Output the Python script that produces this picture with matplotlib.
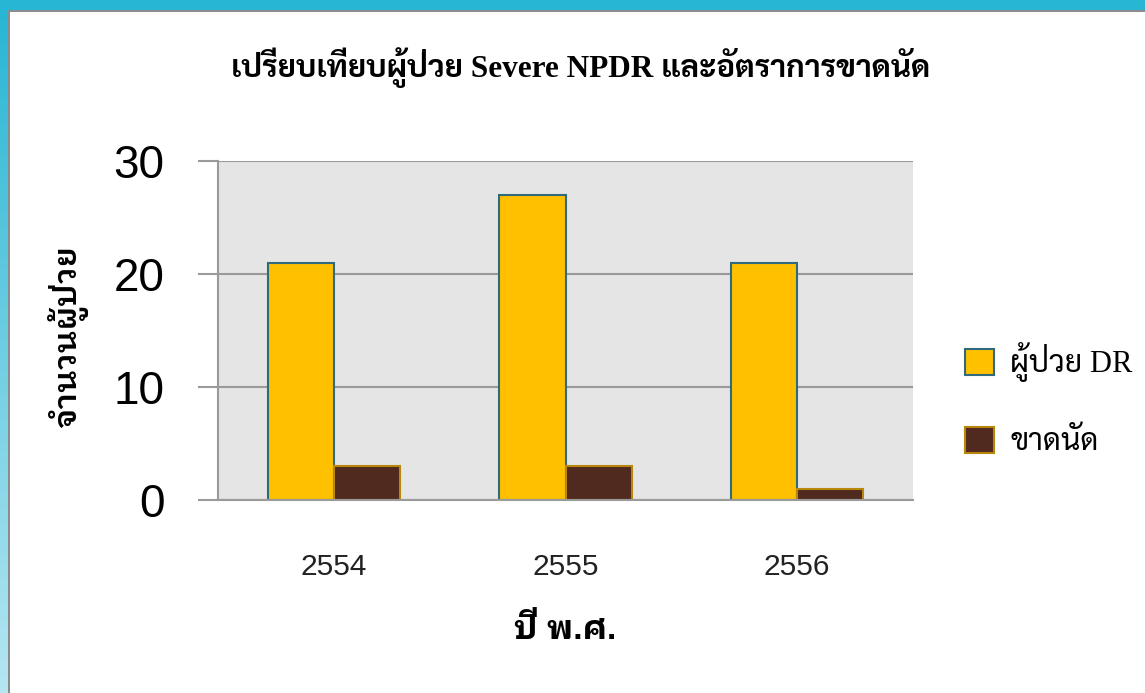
import matplotlib
matplotlib.use("Agg")
import matplotlib.pyplot as plt
import numpy as np
from matplotlib.patches import Rectangle, Patch

# ---- data ----
years = ["2554", "2555", "2556"]
dr_patients = [21, 27, 21]
missed_appointments = [3, 3, 1]
y_ticks = [0, 10, 20, 30]

title_text = "เปรียบเทียบผู้ป่วย Severe NPDR และอัตราการขาดนัด"
ylabel_text = "จำนวนผู้ป่วย"
xlabel_text = "ปี พ.ศ."
series_labels = ["ผู้ป่วย DR", "ขาดนัด"]

# ---- styling ----
W, H = 1145, 693
serif_thai = ["Liberation Serif", "Sarabun"]
sans_thai = ["Liberation Sans", "IBM Plex Sans Thai Looped"]
yellow, yellow_edge = "#FFC000", "#2F6B7C"
brown, brown_edge = "#512A1F", "#B8860B"
grid_gray = "#9A9A9A"

fig = plt.figure(figsize=(W / 100, H / 100), dpi=100, facecolor="white")

# frame decoration: teal band on top, gradient strip on the left, grey rule lines
fig.patches.append(Rectangle((0, 1 - 10 / H), 1, 10 / H, transform=fig.transFigure,
                             facecolor="#27B7D5", edgecolor="none", zorder=0))
grad_ax = fig.add_axes([0, 0, 8 / W, 1])
grad = np.linspace(0, 1, 256).reshape(-1, 1)
top_c = np.array([0x27, 0xB5, 0xD3]) / 255
bot_c = np.array([0xB5, 0xE6, 0xF2]) / 255
img = top_c[None, None, :] * (1 - grad[..., None]) + bot_c[None, None, :] * grad[..., None]
grad_ax.imshow(img, aspect="auto", extent=[0, 1, 0, 1])
grad_ax.axis("off")
fig.patches.append(Rectangle((8 / W, 0), 2 / W, 1 - 10 / H, transform=fig.transFigure,
                             facecolor="#8C8C8C", edgecolor="none", zorder=1))
fig.patches.append(Rectangle((8 / W, 1 - 12 / H), 1 - 8 / W, 2 / H, transform=fig.transFigure,
                             facecolor="#8C8C8C", edgecolor="none", zorder=1))

# ---- plot ----
ax = fig.add_axes([218 / W, 1 - 500 / H, (913 - 218) / W, (500 - 161) / H])
ax.set_facecolor("#E5E5E5")
x = np.arange(len(years))
bw = 0.285
ax.bar(x - bw / 2, dr_patients, bw, color=yellow, edgecolor=yellow_edge, linewidth=1.5, zorder=3)
ax.bar(x + bw / 2, missed_appointments, bw, color=brown, edgecolor=brown_edge, linewidth=1.5, zorder=3)

ax.set_xlim(-0.5, len(years) - 0.5)
ax.set_ylim(0, 30)
ax.set_yticks(y_ticks)
ax.set_yticklabels([str(v) for v in y_ticks], fontsize=33, family=sans_thai)
ax.set_xticks(x)
ax.set_xticklabels(years, fontsize=21.5, family=sans_thai, color="#222222")
ax.yaxis.grid(True, color=grid_gray, linewidth=1.5, zorder=1)
ax.tick_params(axis="y", length=14.5, width=1.5, color=grid_gray, pad=24)
ax.tick_params(axis="x", length=0, pad=38)
for s in ["top", "right"]:
    ax.spines[s].set_visible(False)
for s in ["left", "bottom"]:
    ax.spines[s].set_color(grid_gray)
    ax.spines[s].set_linewidth(1.5)
ax.spines["bottom"].set_zorder(4)

fig.text(581 / W, 1 - 68 / H, title_text, ha="center", va="center",
         fontsize=22.5, fontweight="bold", family=serif_thai)
fig.text(68 / W, 1 - 336 / H, ylabel_text, ha="center", va="center", rotation=90,
         fontsize=23, fontweight="semibold", family=sans_thai)
fig.text(565 / W, 1 - 630 / H, xlabel_text, ha="center", va="center",
         fontsize=24, fontweight="bold", family=sans_thai)

handles = [Patch(facecolor=yellow, edgecolor=yellow_edge, linewidth=1.5),
           Patch(facecolor=brown, edgecolor=brown_edge, linewidth=1.5)]
fig.legend(handles, series_labels, loc="center left", bbox_to_anchor=(937 / W, 1 - 400 / H),
           frameon=False, prop={"family": serif_thai, "size": 22},
           handlelength=0.95, handleheight=0.95, handletextpad=0.55, labelspacing=1.45)

fig.savefig("out.png", dpi=100, facecolor="white")
